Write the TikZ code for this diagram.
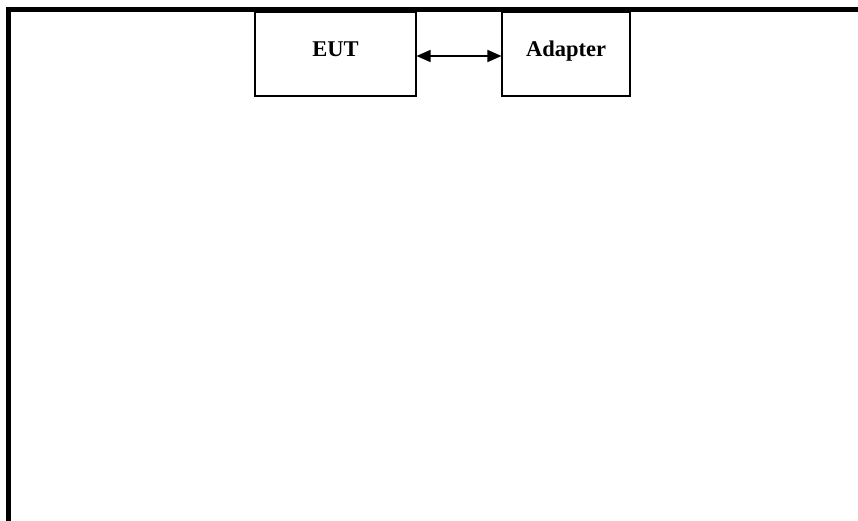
\documentclass[tikz,border=0pt]{standalone}
\usepackage{fontspec}
\setmainfont{Liberation Serif}
\usetikzlibrary{arrows.meta}
\begin{document}
\begin{tikzpicture}[x=1pt,y=-1pt,
  frame/.style={line width=5pt},
  unit/.style={draw,line width=1.1pt,minimum width=161pt,minimum height=84pt,inner sep=0pt,text height=15pt,text depth=9pt,font=\fontsize{22.5}{26}\selectfont\bfseries},
  link/.style={line width=1.5pt,{Triangle[length=14pt,width=12pt]}-{Triangle[length=14pt,width=12pt]}}]
\useasboundingbox (0,0) rectangle (858,521);
\coordinate (tl) at (8.5,9.5);
\coordinate (tr) at (858,9.5);
\coordinate (bl) at (8.5,521);
\draw[frame,line cap=rect] (bl) -- (tl) -- (tr);
\node[unit] (eut) at (335.5,54) {EUT};
\node[unit,minimum width=128pt] (adp) at (566,54) {Adapter};
\draw[link] (eut.east |- 0,56) -- (adp.west |- 0,56);
\end{tikzpicture}
\end{document}
